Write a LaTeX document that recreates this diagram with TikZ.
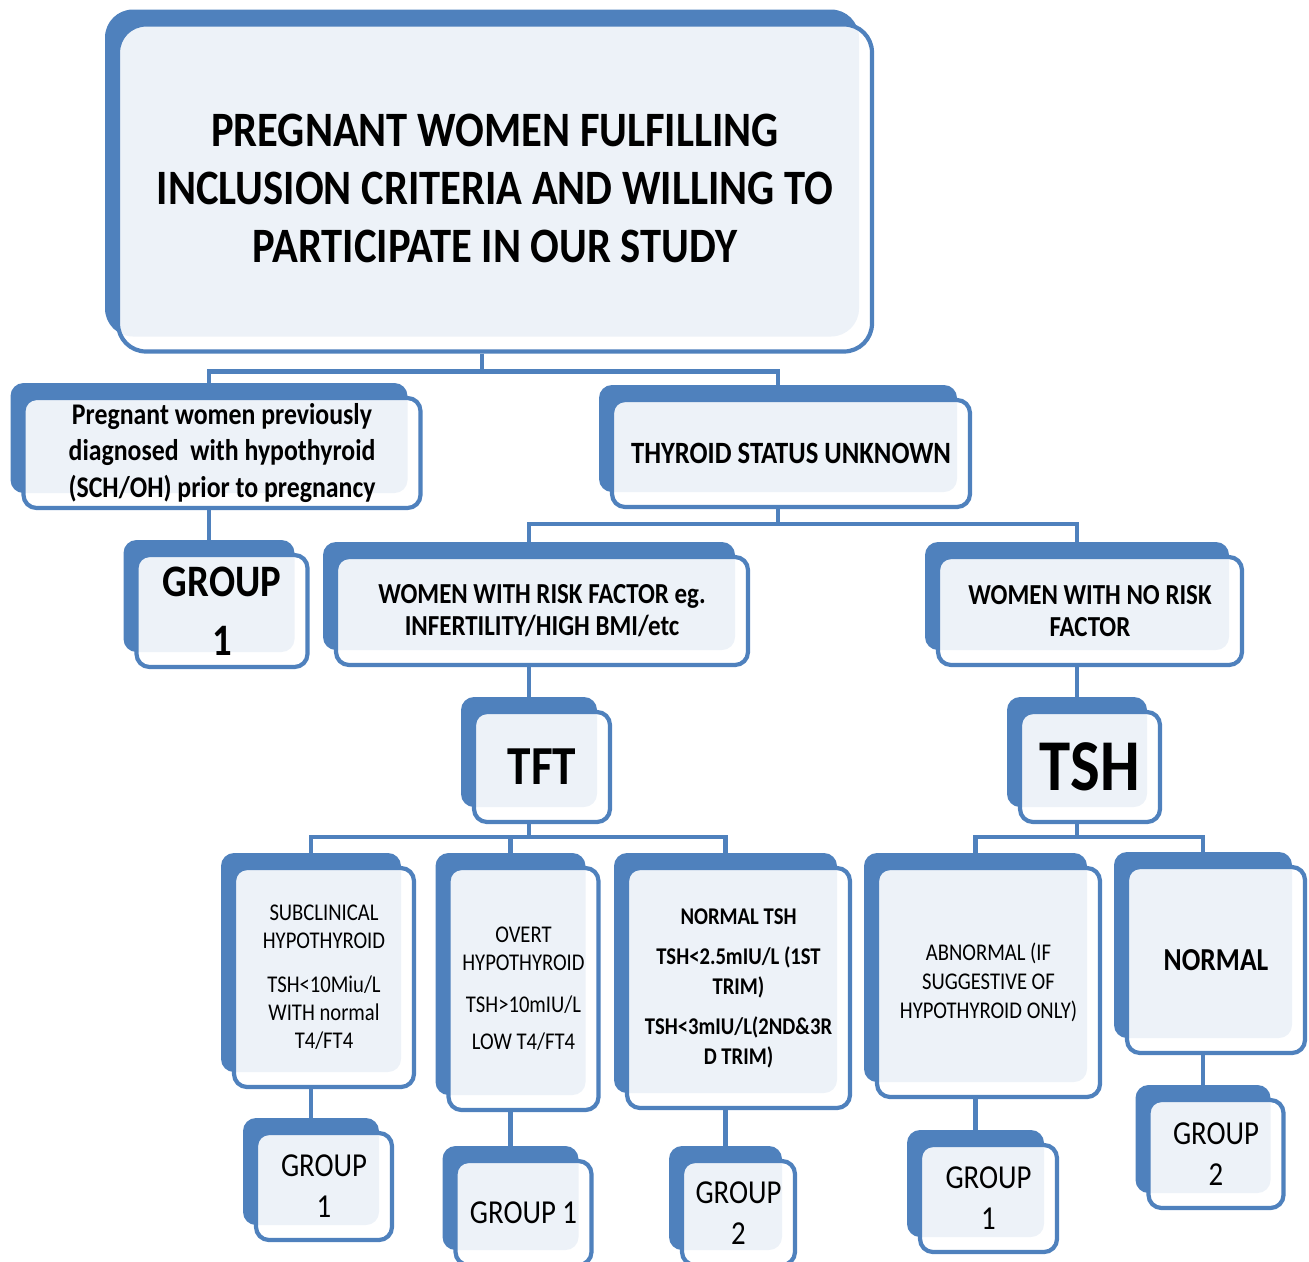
\documentclass[tikz,border=0pt]{standalone}
\usepackage{fontspec}
\setmainfont{Carlito}[FakeStretch=0.86]
\usepackage{xcolor}
\definecolor{boxblue}{RGB}{79,129,189}
\usetikzlibrary{shadows,backgrounds}

\begin{document}
\begin{tikzpicture}[x=1pt,y=-1pt,
  card/.style={draw=boxblue,line width=4.2pt,rounded corners=13pt,fill=white,fill opacity=0.9,text opacity=1,
    align=center,inner sep=0pt,general shadow={shadow xshift=-13pt,shadow yshift=15pt,fill=boxblue,fill opacity=1}},
  link/.style={draw=boxblue,line width=4.5pt}]
\useasboundingbox (0,0) rectangle (1309,1261);
\def\dx{-13pt}
\def\small{\fontsize{24}{28}\selectfont}
\def\grp{\fontsize{33.5}{41}\selectfont}

\node[card,rounded corners=28pt,minimum width=754pt,minimum height=327pt,font=\bfseries\fontsize{49.5}{58}\selectfont] (title) at (495,188)
  {PREGNANT WOMEN FULFILLING\\INCLUSION CRITERIA AND WILLING TO\\PARTICIPATE IN OUR STUDY};
\node[card,minimum width=397pt,minimum height=110pt,font=\bfseries\fontsize{30}{36.5}\selectfont] (prev) at (222,453)
  {Pregnant women previously\\diagnosed~ with hypothyroid\\(SCH/OH) prior to pregnancy};
\node[card,minimum width=358pt,minimum height=107pt,font=\bfseries\fontsize{31}{36}\selectfont] (unk) at (791,453.5)
  {THYROID STATUS UNKNOWN};
\node[card,minimum width=171pt,minimum height=112pt,font=\bfseries\fontsize{45}{59}\selectfont] (grpA) at (222,611) {GROUP\\1};
\node[card,minimum width=412pt,minimum height=108pt,font=\bfseries\fontsize{29}{32}\selectfont] (risk) at (542,611)
  {WOMEN WITH RISK FACTOR eg.\\INFERTILITY/HIGH BMI/etc};
\node[card,minimum width=304pt,minimum height=108pt,font=\bfseries\fontsize{29}{32}\selectfont] (norisk) at (1090,611)
  {WOMEN WITH NO RISK\\FACTOR};
\node[card,minimum width=136pt,minimum height=110pt,font=\bfseries\fontsize{55}{60}\selectfont] (tft) at (542,767) {TFT};
\node[card,minimum width=140pt,minimum height=110pt,font=\bfseries\fontsize{73}{78}\selectfont] (tsh) at (1090,767) {TSH};

\node[card,minimum width=180pt,minimum height=219pt,font=\small] (subc) at (324,977.5)
  {SUBCLINICAL\\HYPOTHYROID\\[16pt]TSH<10Miu/L\\WITH normal\\T4/FT4};
\node[card,minimum width=150pt,minimum height=242pt,font=\small] (overt) at (523.5,989)
  {OVERT\\HYPOTHYROID\\[14pt]TSH>10mIU/L\\[9pt]LOW T4/FT4};
\node[card,minimum width=223pt,minimum height=240pt,font=\bfseries\fontsize{24}{30}\selectfont] (normtsh) at (738.5,988)
  {NORMAL TSH\\[10pt]TSH<2.5mIU/L (1ST\\TRIM)\\[10pt]TSH<3mIU/L(2ND\&3R\\D TRIM)};
\node[card,minimum width=223pt,minimum height=229pt,font=\fontsize{24}{29}\selectfont] (abn) at (988.5,982.5)
  {ABNORMAL (IF\\SUGGESTIVE OF\\HYPOTHYROID ONLY)};
\node[card,minimum width=178pt,minimum height=186pt,font=\bfseries\fontsize{32}{36}\selectfont] (normal) at (1216,960) {NORMAL};

\node[card,minimum width=136pt,minimum height=107pt,font=\grp] (grpB) at (324,1186.5) {GROUP\\1};
\node[card,minimum width=136pt,minimum height=104pt,font=\grp] (grpC) at (523.5,1213) {GROUP 1};
\node[card,minimum width=113pt,minimum height=104pt,font=\grp] (grpD) at (738.5,1213) {GROUP\\2};
\node[card,minimum width=137pt,minimum height=107pt,font=\grp] (grpE) at (988.5,1198.5) {GROUP\\1};
\node[card,minimum width=135pt,minimum height=108pt,font=\grp] (grpF) at (1216,1154) {GROUP\\2};

\begin{scope}[on background layer]
\foreach \c in {prev,unk}
  \draw[link] ([xshift=\dx]title.south) -- ++(0,18) -| ([xshift=\dx]\c.north);
\foreach \c in {risk,norisk}
  \draw[link] ([xshift=\dx]unk.south) -- ++(0,15) -| ([xshift=\dx]\c.north);
\foreach \c in {subc,overt,normtsh}
  \draw[link] ([xshift=\dx]tft.south) -- ++(0,13) -| ([xshift=\dx]\c.north);
\foreach \c in {abn,normal}
  \draw[link] ([xshift=\dx]tsh.south) -- ++(0,13) -| ([xshift=\dx]\c.north);
\foreach \a/\b in {prev/grpA,risk/tft,norisk/tsh,subc/grpB,overt/grpC,normtsh/grpD,abn/grpE,normal/grpF}
  \draw[link] ([xshift=\dx]\a.south) -- ([xshift=\dx]\b.north);
\end{scope}
\end{tikzpicture}
\end{document}
